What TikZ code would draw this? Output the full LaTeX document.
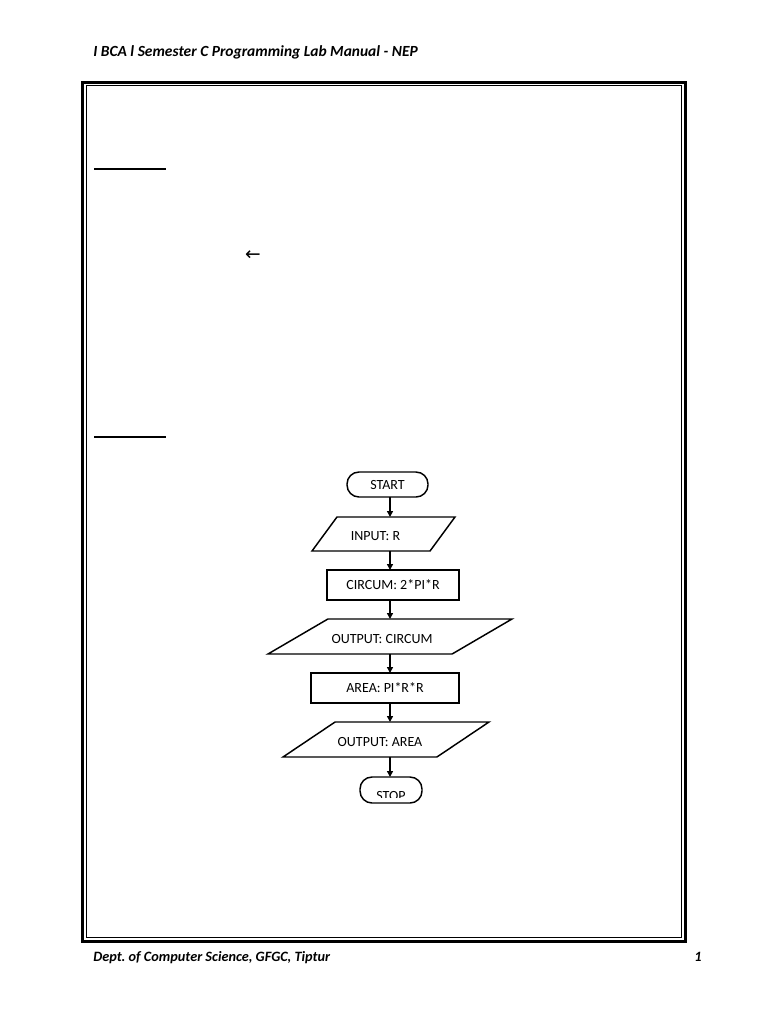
\documentclass[tikz,border=0pt]{standalone}
\usepackage{fontspec}
\setmainfont{Carlito}
\newfontfamily\arrowfont{DejaVu Sans}
\usetikzlibrary{shapes.geometric, arrows.meta, positioning}
\frenchspacing

\begin{document}
\begin{tikzpicture}[x=0.75pt, y=-0.75pt,
  every node/.style={font=\fontsize{10.5}{12}\selectfont},
  terminal/.style={draw, line width=1.1pt, rectangle, rounded corners=9pt, inner sep=0pt, outer sep=0pt},
  process/.style={draw, line width=1.1pt, rectangle, inner sep=0pt, outer sep=0pt, minimum height=22.5pt},
  iobox/.style={draw, line width=1.1pt, trapezium, trapezium stretches body, inner sep=0pt, outer sep=0pt,
                text height=#1/2+5.2pt, text depth=#1/2-5.2pt},
  flowarrow/.style={line width=1.1pt, -{Triangle[length=4.5pt, width=4.5pt]}},
  pagetext/.style={inner sep=0pt, font=\bfseries\itshape\fontsize{11.6}{13}\selectfont}
]
  \useasboundingbox (0,0) rectangle (768,1024);

  % page header and footer
  \node[pagetext, anchor=base west] (header) at (93,57) {I BCA l Semester C Programming Lab Manual - NEP};
  \node[pagetext, anchor=base west, font=\bfseries\itshape\fontsize{10.7}{13}\selectfont] (footer) at (93,961) {Dept. of Computer Science, GFGC, Tiptur};
  \node[pagetext, anchor=base, font=\bfseries\itshape\fontsize{10.7}{13}\selectfont] (pagenum) at (698,961) {1};

  % page border
  \draw[line width=2.25pt] (82.5,82.5) rectangle (685,941);
  \draw[line width=0.75pt] (86,86) rectangle (681.5,937.5);

  % heading rules and the arrow sign
  \draw[line width=1.2pt] (94,169) -- (166,169);
  \draw[line width=1.2pt] (94,437) -- (166,437);
  \node[font=\arrowfont\fontsize{14}{15}\selectfont] (larrow) at (253,256) {←};

  % flowchart
  \node[terminal, minimum width=60.75pt, minimum height=18.75pt] (start) at (387.5,484.5) {START};
  \node[iobox=25.5pt, trapezium left angle=53.7, trapezium right angle=126.3,
        minimum width=107.25pt] (input) at (383.5,534) {INPUT: R\hspace*{12pt}};
  \node[process, minimum width=99pt] (circum) at (393,585) {CIRCUM: 2*PI*R};
  \node[iobox=26.25pt, trapezium left angle=30.3, trapezium right angle=149.7,
        minimum width=183pt] (outcircum) at (390,636.5) {OUTPUT: CIRCUM\hspace*{12pt}};
  \node[process, minimum width=111pt] (area) at (385,688) {AREA: PI*R*R};
  \node[iobox=26.25pt, trapezium left angle=33.9, trapezium right angle=146.1,
        minimum width=154.5pt] (outarea) at (386,739.5) {OUTPUT: AREA\hspace*{9pt}};
  \node[terminal, minimum width=46.5pt, minimum height=19.5pt,
        path picture={
          \clip ([yshift=4.5pt]path picture bounding box.south west) rectangle (path picture bounding box.north east);
          \node[anchor=base] at ([yshift=2pt]path picture bounding box.south) {STOP};
        }] (stop) at (391,790) {};

  \coordinate (flowaxis) at (390,0);
  \draw[flowarrow] (flowaxis |- start.south) -- (flowaxis |- input.north);
  \draw[flowarrow] (flowaxis |- input.south) -- (flowaxis |- circum.north);
  \draw[flowarrow] (flowaxis |- circum.south) -- (flowaxis |- outcircum.north);
  \draw[flowarrow] (flowaxis |- outcircum.south) -- (flowaxis |- area.north);
  \draw[flowarrow] (flowaxis |- area.south) -- (flowaxis |- outarea.north);
  \draw[flowarrow] (flowaxis |- outarea.south) -- (flowaxis |- stop.north);
\end{tikzpicture}
\end{document}
